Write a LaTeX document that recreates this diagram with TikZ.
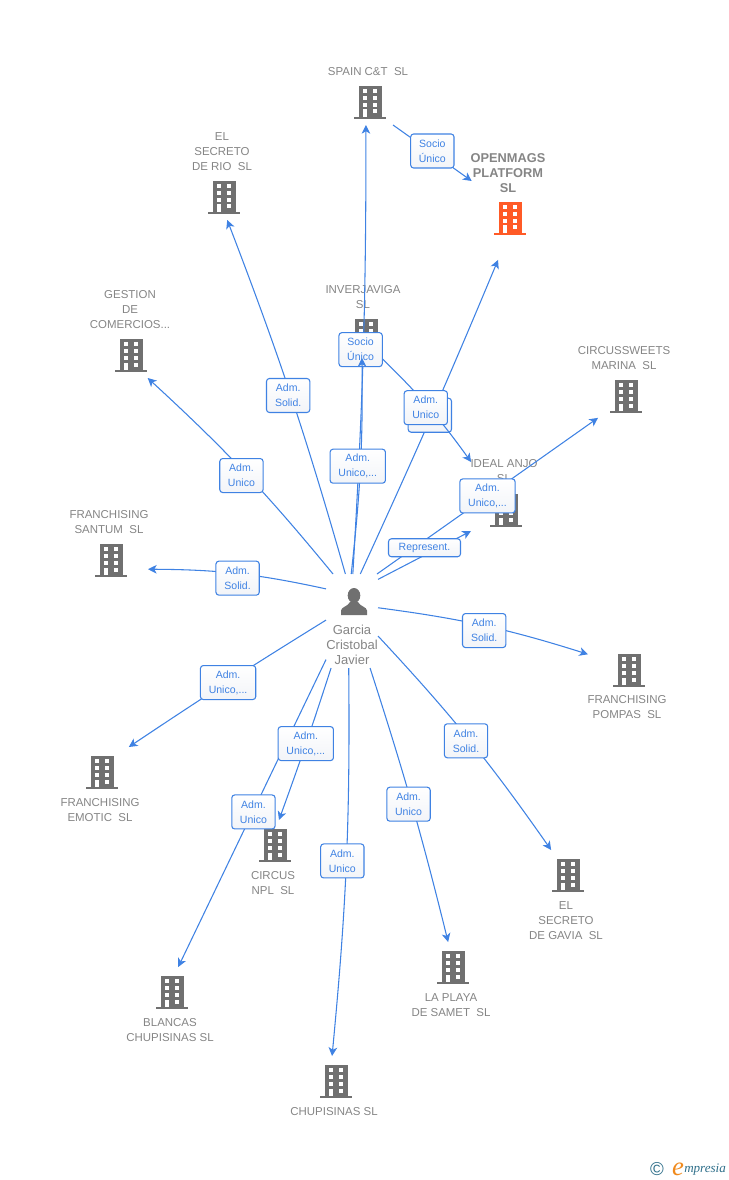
\documentclass[tikz,border=0pt]{standalone}
\usepackage{xcolor}
\usepackage{fontspec}
\setmainfont{Liberation Sans}
\newfontfamily\logofont{Liberation Serif}
\usetikzlibrary{arrows.meta}
\definecolor{bldggray}{HTML}{707070}
\definecolor{bldgred}{HTML}{FF5A26}
\definecolor{labelgray}{HTML}{858585}
\definecolor{linkblue}{HTML}{3F82E3}
\definecolor{tagfill}{HTML}{F2F4F8}
\definecolor{logoteal}{HTML}{2F6F8A}
\definecolor{logoorange}{HTML}{F08A1D}
\newcommand{\bldgicon}[1]{%
  \begin{scope}[shift={(path picture bounding box.center)}]
    \fill [#1] (-11.5,-16) rectangle (11.5,15);
    \fill [#1] (-16,15) rectangle (16,17);
    \foreach \rowy in {-13,-6,1} {
      \fill [white] (-7.3,\rowy) rectangle ++(4.6,4);
      \fill [white] (2.5,\rowy) rectangle ++(4.8,4);
    }
    \fill [white] (-7.3,7.5) rectangle (-3,15);
    \fill [white] (2.5,7.5) rectangle (7.3,11.5);
  \end{scope}}
\newcommand{\personicon}{%
  \begin{scope}[shift={(path picture bounding box.center)}]
    \fill [bldggray] (2,-25.5) ellipse (6.3 and 7.5);
    \fill [bldggray] (-11,-6) -- (-11,-10.5) .. controls (-11,-14) and (-4,-14.5) .. (-2,-19) -- (6,-19) .. controls (8,-14.5) and (15,-14) .. (15,-10.5) -- (15,-6) -- cycle;
  \end{scope}}
\tikzstyle{company} = [inner sep=0pt, outer sep=0pt, minimum width=42pt, minimum height=37.5pt, path picture={\bldgicon{bldggray}}]
\tikzstyle{companytop} = [company, minimum height=34.5pt]
\tikzstyle{owned} = [inner sep=0pt, outer sep=0pt, minimum width=58.5pt, minimum height=55.5pt, path picture={\bldgicon{bldgred}}]
\tikzstyle{hub} = [inner sep=0pt, outer sep=0pt, minimum width=39pt, minimum height=70.5pt, path picture={\personicon}]
\tikzstyle{firmlabel} = [inner sep=0pt, align=center, text=labelgray, yshift=-0.75pt, font=\fontsize{8.6pt}{11.25pt}\selectfont]
\tikzstyle{tagbox} = [draw=linkblue, line width=0.8pt, rounded corners=2.2pt, top color=white, bottom color=tagfill, text=linkblue, align=center, inner sep=0pt, minimum width=32.5pt, minimum height=25.5pt, font=\fontsize{7.9pt}{11.25pt}\selectfont]
\tikzstyle{tagwide} = [tagbox, minimum width=41.5pt]
\tikzstyle{arrow} = [draw=linkblue, line width=0.8pt, -{Stealth[length=6.5pt,width=6.5pt,inset=1.8pt]}]

\begin{document}
\begin{tikzpicture}[x=0.75pt, y=-0.75pt]
  \useasboundingbox (0,0) rectangle (728,1180);

  % companies
  \node (spain) [companytop] at (370,102) {};
  \node (openmags) [owned] at (510,218) {};
  \node (rio) [companytop] at (224,197) {};
  \node (gestion) [companytop] at (131,355) {};
  \node (inverjaviga) [companytop] at (366,335) {};
  \node (circussweets) [companytop] at (626,396) {};
  \node (ideal) [company, minimum width=52.5pt, minimum height=72pt] at (506,510) {};
  \node (santum) [company, minimum width=55.5pt] at (111,560) {};
  \node (pompas) [company, minimum width=61.5pt, minimum height=36pt] at (629,670) {};
  \node (emotic) [company] at (102,772) {};
  \node (circus) [company] at (275,845) {};
  \node (gavia) [company] at (568,875) {};
  \node (playa) [company] at (453,967) {};
  \node (blancas) [company] at (172,992) {};
  \node (chupisinas) [company] at (336,1081) {};

  \node (spainname) [firmlabel] at (368,71) {SPAIN C\&T~ SL};
  \node (openmagsname) [firmlabel, font=\fontsize{9.6pt}{11.25pt}\selectfont\bfseries] at (508,172) {OPENMAGS\\PLATFORM\\SL};
  \node (rioname) [firmlabel] at (222,151) {EL\\SECRETO\\DE RIO~ SL};
  \node (gestionname) [firmlabel] at (130,309) {GESTION\\DE\\COMERCIOS...};
  \node (inverjavaname) [firmlabel] at (363,296) {INVERJAVIGA\\SL};
  \node (circussweetsname) [firmlabel] at (624,357) {CIRCUSSWEETS\\MARINA~ SL};
  \node (idealname) [firmlabel] at (504,470) {IDEAL ANJO\\SL};
  \node (santumname) [firmlabel] at (109,521) {FRANCHISING\\SANTUM~ SL};
  \node (pompasname) [firmlabel] at (627,706) {FRANCHISING\\POMPAS~ SL};
  \node (emoticname) [firmlabel] at (100,809) {FRANCHISING\\EMOTIC~ SL};
  \node (circusname) [firmlabel] at (273,882) {CIRCUS\\NPL~ SL};
  \node (gavianame) [firmlabel] at (566,920) {EL\\SECRETO\\DE GAVIA~ SL};
  \node (playaname) [firmlabel] at (451,1004) {LA PLAYA\\DE SAMET~ SL};
  \node (blancasname) [firmlabel] at (170,1029) {BLANCAS\\CHUPISINAS SL};
  \node (chupisinasname) [firmlabel] at (334,1111) {CHUPISINAS SL};

  % person
  \node (garcia) [hub] at (352,621) {};
  \node (garcianame) [firmlabel, font=\fontsize{9.75pt}{11.25pt}\selectfont] at (352,644) {Garcia\\Cristobal\\Javier};

  % links
  \draw [arrow] (garcia.98) to[bend right=2.5] node[tagbox, xshift=-2pt] {Adm.\\Solid.} (rio.278);
  \draw [arrow] (garcia.112) to[bend right=4] node[tagbox, xshift=-2.2pt, yshift=-2.5pt] {Adm.\\Unico} (gestion.306);
  \draw [arrow] (garcia.129) to[bend right=6] node[tagbox, yshift=-3.4pt] {Adm.\\Solid.} (santum.346);
  \draw [arrow] (garcia.178) to[bend right=1] node[tagwide, xshift=1pt] {Adm.\\Unico,...} (emotic.43);
  \draw [arrow] (garcia.236) to node[tagbox, xshift=1pt, yshift=1pt] {Adm.\\Unico} (blancas.76);
  \draw [arrow] (garcia.246) to[bend left=1] node[tagwide, yshift=0.5pt] {Adm.\\Unico,...} (circus.81);
  \draw [arrow] (garcia.266) to[bend left=3] node[tagbox, xshift=-3pt, yshift=1pt] {Adm.\\Unico} (chupisinas.99);
  \draw [arrow] (garcia.291) to[bend left=2] node[tagbox, xshift=-2.5pt] {Adm.\\Unico} (playa.101);
  \draw [arrow] (garcia.330) to[bend left=4] node[tagbox, xshift=-2.2pt, yshift=-1pt] {Adm.\\Solid.} (gavia.124);
  \draw [arrow] (garcia.27) to[bend left=5] node[tagbox, yshift=-3.7pt] {Adm.\\Solid.} (pompas.159);
  \draw [arrow] (garcia.62) to node[tagwide] {Adm.\\Unico,...} (circussweets.218);
  \draw [arrow] (garcia.58) to node[tagbox, minimum width=54pt, minimum height=13.5pt, yshift=5.6pt] {Represent.} (ideal.211);
  \draw [arrow, shorten >=4pt] (garcia.80) to[bend right=1] node[tagbox, xshift=-1.5pt] {} (openmags.255);
  \draw [arrow] (inverjaviga.304) to[bend left=5] node[tagbox, xshift=-2.4pt] {Adm.\\Unico} (ideal.126);
  \draw [arrow] (garcia.89) to[bend right=1.7] node[tagbox, xshift=-2pt] {Socio\\Único} (spain.260);
  \draw [arrow] (garcia.91) to[bend right=3.5] node[tagwide, xshift=-2pt] {Adm.\\Unico,...} (inverjaviga.260);
  \draw [arrow] (spain.315) to node[tagbox, yshift=1.5pt] {Socio\\Único} (openmags.136);

  % logo
  \node (logomark) [inner sep=0pt, text=logoteal, font=\fontsize{14pt}{14pt}\selectfont] at (657,1169) {©};
  \node (logoe) [inner sep=0pt, text=logoorange, font=\logofont\itshape\fontsize{20pt}{20pt}\selectfont] at (678,1169) {e};
  \node (logotext) [inner sep=0pt, anchor=west, text=logoteal, font=\logofont\itshape\fontsize{9.8pt}{9.8pt}\selectfont] at (684,1170) {mpresia};
\end{tikzpicture}
\end{document}
